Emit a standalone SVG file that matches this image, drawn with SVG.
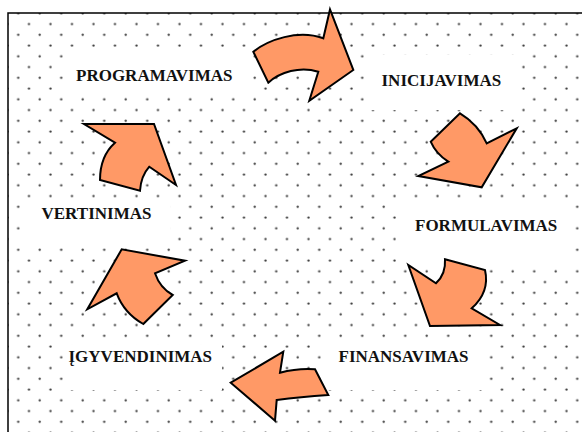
<svg xmlns="http://www.w3.org/2000/svg" width="582" height="432" viewBox="0 0 582 432">
  <defs>
    <pattern id="dots" patternUnits="userSpaceOnUse" x="0" y="0" width="21.5" height="21.5">
      <circle cx="7.5" cy="2.5" r="1.15" fill="#3a3a3a"/>
      <circle cx="18.25" cy="13.25" r="1.15" fill="#3a3a3a"/>
    </pattern>
  </defs>
  <style>
    .lbl { font-family: "Liberation Serif", "Times New Roman", serif; font-weight: bold; font-size: 17px; fill: #111; }
    .box { fill: #ffffff; stroke: none; }
    .arrow { fill: #FF9966; stroke: #000; stroke-width: 2; stroke-linejoin: miter; }
  </style>
  <rect x="0" y="0" width="582" height="432" fill="#ffffff"/>
  <rect x="8" y="13" width="600" height="450" fill="url(#dots)" stroke="#000" stroke-width="1.5"/>

  <g id="programavimas">
    <rect class="box" x="66" y="51" width="184" height="39"/>
    <text class="lbl" x="76" y="80.5">PROGRAMAVIMAS</text>
  </g>
  <g id="inicijavimas">
    <rect class="box" x="366" y="55" width="153" height="55"/>
    <text class="lbl" x="381.5" y="86">INICIJAVIMAS</text>
  </g>
  <g id="formulavimas">
    <rect class="box" x="399" y="203" width="176" height="59"/>
    <text class="lbl" x="415" y="231">FORMULAVIMAS</text>
  </g>
  <g id="finansavimas">
    <rect class="box" x="325" y="343" width="158" height="47"/>
    <text class="lbl" x="338.5" y="361.5">FINANSAVIMAS</text>
  </g>
  <g id="igyvendinimas">
    <rect class="box" x="64" y="345" width="158" height="45"/>
    <text class="lbl" x="68.5" y="361.5">ĮGYVENDINIMAS</text>
  </g>
  <g id="vertinimas">
    <rect class="box" x="25" y="200" width="145" height="45"/>
    <text class="lbl" x="41.5" y="218.5">VERTINIMAS</text>
  </g>

  <g id="connectors">
    <path class="arrow" d="M253.3,51.7 C268,40 298,29 323.3,38.3 L330,9.5 L353.3,70 L309.3,100.7 L318.3,71.7 C300,66 280,72 268.3,82.7 Z"/>
    <path class="arrow" d="M460,113.3 Q478,124 486.7,143.3 L516.7,128.3 L481.7,187.3 L418.3,176 L448.3,161.7 Q436,154 430.7,141.7 Z"/>
    <path class="arrow" d="M445,259.3 L485,270 Q490,292 471.7,308.3 L500,325 L430,326 L408.3,265 L436,283.3 Q446,274 445,259.3 Z"/>
    <path class="arrow" d="M315,369.3 L328.3,395 Q300,397 276.7,400 L275,420.7 L230.7,382.7 L283.3,351.7 L280,372.7 Q298,368 315,369.3 Z"/>
    <path class="arrow" d="M143.3,324 L172.7,295 Q160,288 155,273.3 L185,260.7 L121.7,249.3 L87.3,309.3 L116.7,293.3 Q124,313 143.3,324 Z"/>
    <path class="arrow" d="M84,124 L154,124 L176,185 L149.3,166.7 Q141,176 140,190.7 L100,180 Q100,156 115,142.7 Z"/>
  </g>
</svg>
